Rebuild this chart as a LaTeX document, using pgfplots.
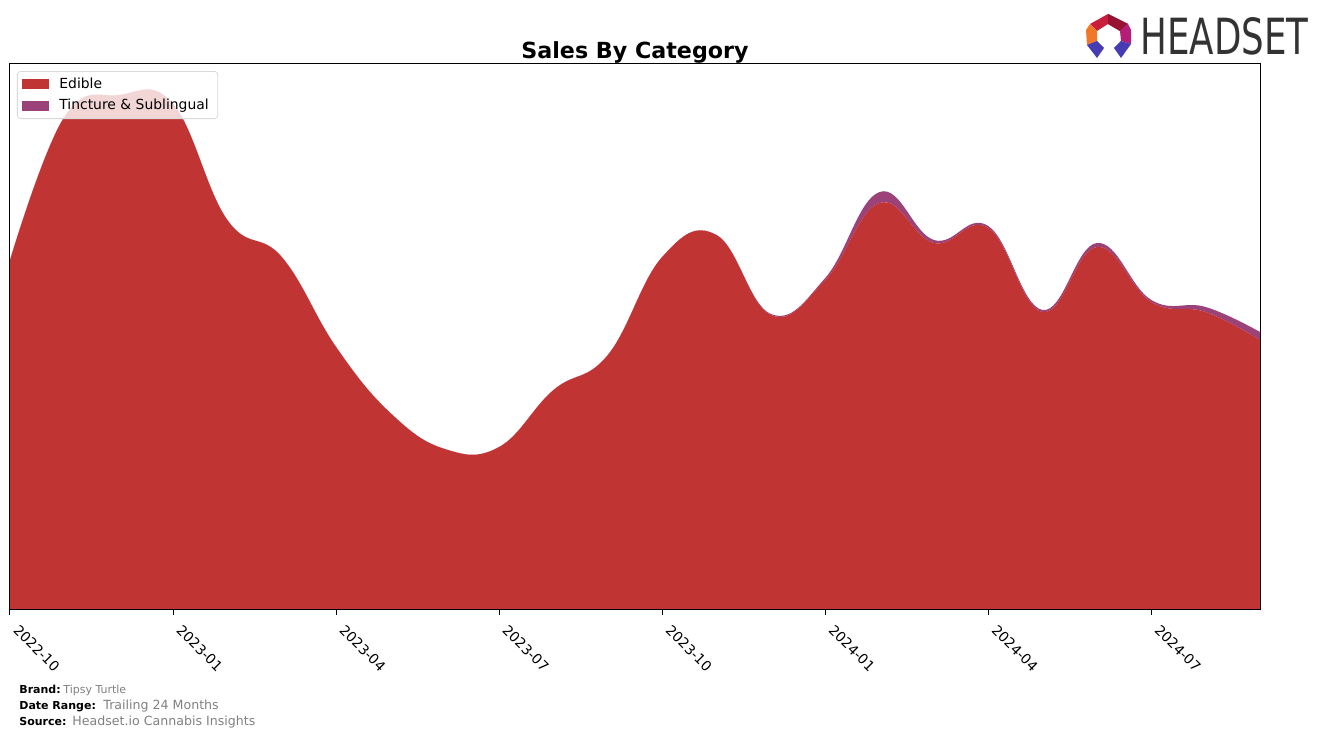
\documentclass[border=0pt]{standalone}
\usepackage{pgfplots}
\pgfplotsset{compat=1.18}
\usepackage{pgfplotstable}
\usepackage{fontspec}
\setmainfont{DejaVu Sans}
\definecolor{edible}{RGB}{193,52,52}
\definecolor{tinct}{RGB}{155,66,121}
\definecolor{footgray}{RGB}{128,128,128}
\definecolor{logogray}{RGB}{51,51,51}
\definecolor{logored}{RGB}{200,30,60}
\definecolor{logodred}{RGB}{150,20,50}
\definecolor{logoorange}{RGB}{240,120,40}
\definecolor{logomag}{RGB}{180,30,120}
\definecolor{logoblue}{RGB}{70,60,180}
\pgfplotstableread{
i edible tinct
0 350 0
1 493 0
2 515 0
3 506 0
4 390 0
5 353 0
6 263 0
7 197 0
8 161 0
9 163 0
10 220 0
11 255 0
12 353 0
13 375 0
14 295 1
15 330 2
16 407 11
17 367 3
18 382 2
19 298 2
20 363 4
21 308 2
22 298 5
23 270 8
}\datatable
\begin{document}
\begin{tikzpicture}
\path[use as bounding box] (0pt,0pt) rectangle (662pt,369pt);
\begin{axis}[
  at={(5pt,64pt)}, anchor=south west,
  scale only axis, width=625pt, height=273pt,
  xmin=0, xmax=23, ymin=0, ymax=546,
  axis on top,
  axis line style={line width=0.5pt},
  ytick=\empty,
  xtick={0,3,6,9,12,15,18,21},
  xticklabels={2022-10,2023-01,2023-04,2023-07,2023-10,2024-01,2024-04,2024-07},
  tick align=outside, xtick pos=bottom,
  major tick length=2.5pt,
  tick style={line width=0.5pt, black},
  xticklabel style={rotate=-45, anchor=north west, font=\fontsize{6.95}{8}\selectfont, inner sep=1pt, xshift=5.5pt, yshift=1.5pt},
  stack plots=y,
  legend style={at={(0.0056,0.987)}, anchor=north west, draw=black!15, rounded corners=1.5pt, fill=white, fill opacity=0.8, text opacity=1, font=\fontsize{6.95}{8}\selectfont, row sep=1pt, inner xsep=2.5pt, inner ysep=1.5pt,
    nodes={inner ysep=1.5pt},
    /tikz/every odd column/.append style={column sep=3pt}},
  legend cell align=left,
  legend image code/.code={\fill[#1, fill opacity=1, sharp corners] (0pt,-2.5pt) rectangle (13.5pt,2.5pt);},
]
\addplot[fill=edible, draw=none, smooth, tension=0.7] table[x=i, y=edible] {\datatable} \closedcycle;
\addlegendentry{Edible}
\addplot[fill=tinct, draw=none, smooth, tension=0.7] table[x=i, y=tinct] {\datatable} \closedcycle;
\addlegendentry{Tincture \& Sublingual}
\end{axis}
% title
\node[font=\fontsize{11.1}{13}\selectfont\bfseries] at (317.5pt,343pt) {Sales By Category};
% logo
\node[anchor=base west, inner sep=0pt, text=logogray] at (570pt,341.5pt) {\resizebox{84pt}{18.5pt}{HEADSET}};
\begin{scope}[x=0.5pt, y=-0.5pt, shift={(0pt,369pt)}]
\fill[logored] (1090,24) -- (1108,14) -- (1128,24) -- (1120,31) -- (1108,24) -- (1097,31) -- cycle;
\fill[logodred] (1108,14) -- (1128,24) -- (1120,31) -- (1108,24) -- cycle;
\fill[logoorange] (1090,24) -- (1097,31) -- (1097,41) -- (1087,45) -- (1086,30) -- cycle;
\fill[logomag] (1128,24) -- (1131,30) -- (1131,44) -- (1121,41) -- (1120,31) -- cycle;
\fill[logoblue] (1087,45) -- (1097,41) -- (1104,48) -- (1097,58) -- cycle;
\fill[logoblue] (1131,44) -- (1121,41) -- (1114,48) -- (1121,58) -- cycle;
\end{scope}
% footer
\node[anchor=base west, inner sep=0pt, font=\fontsize{5.5}{6}\selectfont\bfseries] at (9.5pt,22pt) {Brand:};
\node[anchor=base west, inner sep=0pt, font=\fontsize{5.5}{6}\selectfont, text=footgray] at (31.5pt,22pt) {Tipsy Turtle};
\node[anchor=base west, inner sep=0pt, font=\fontsize{5.5}{6}\selectfont\bfseries] at (9.5pt,14pt) {Date Range:};
\node[anchor=base west, inner sep=0pt, font=\fontsize{6.3}{7}\selectfont, text=footgray] at (51.5pt,14pt) {Trailing 24 Months};
\node[anchor=base west, inner sep=0pt, font=\fontsize{5.5}{6}\selectfont\bfseries] at (9.5pt,6pt) {Source:};
\node[anchor=base west, inner sep=0pt, font=\fontsize{6.3}{7}\selectfont, text=footgray] at (36pt,6pt) {Headset.io Cannabis Insights};
\end{tikzpicture}
\end{document}
